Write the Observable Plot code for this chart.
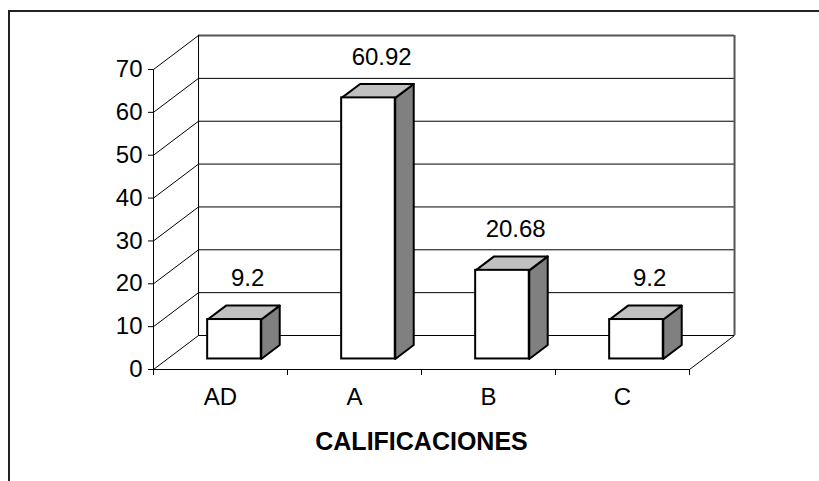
<!DOCTYPE html>
<html>
<head>
<meta charset="utf-8">
<script src="https://cdn.jsdelivr.net/npm/d3@7"></script>
<script src="https://cdn.jsdelivr.net/npm/@observablehq/plot@0.6"></script>
<style>
  html, body { margin: 0; padding: 0; background: #fff; }
  #wrap { position: relative; width: 819px; height: 481px; overflow: hidden; }
  #border { position: absolute; left: 8px; top: 10px; width: 900px; height: 600px;
            border-left: 2px solid #222; border-top: 2px solid #222; pointer-events: none; }
</style>
</head>
<body>
<div id="wrap"><div id="border"></div></div>
<script>
const categories = ["AD", "A", "B", "C"];
const values = [9.2, 60.92, 20.68, 9.2];
const valueLabels = ["9.2", "60.92", "20.68", "9.2"];
const yTicks = [0, 10, 20, 30, 40, 50, 60, 70];
const axisTitle = "CALIFICACIONES";

// 3D projection constants (depth offset expressed in scale units)
const DX = 0.336, DY = 7.93;     // full depth of the floor
const F1 = 0.31, F2 = 0.72;      // bar front / back depth fraction
const W = 0.4;                   // bar width (category units)
const N = categories.length;
const yMax = yTicks[yTicks.length - 1];

const bars = values.map((v, i) => {
  const c = i + 0.5;
  const xl = c - W / 2 + F1 * DX, xr = xl + W;
  const y0 = F1 * DY, yt = v + F1 * DY;
  const ddx = (F2 - F1) * DX, ddy = (F2 - F1) * DY;
  return {i, v, c, xl, xr, y0, yt, ddx, ddy};
});
const topFaces = bars.flatMap(b => [
  [b.xl, b.yt], [b.xr, b.yt], [b.xr + b.ddx, b.yt + b.ddy], [b.xl + b.ddx, b.yt + b.ddy], [b.xl, b.yt]
].map(([x, y]) => ({id: b.i, x, y})));
const sideFaces = bars.flatMap(b => [
  [b.xr, b.y0], [b.xr, b.yt], [b.xr + b.ddx, b.yt + b.ddy], [b.xr + b.ddx, b.y0 + b.ddy], [b.xr, b.y0]
].map(([x, y]) => ({id: b.i, x, y})));

const chart = Plot.plot({
  width: 819,
  height: 481,
  marginLeft: 153,
  marginRight: 130,
  marginTop: 69,
  marginBottom: 112,
  style: {fontFamily: "'Liberation Sans', Arial, sans-serif", fontSize: "24px", background: "transparent", color: "#000"},
  x: {domain: [0, N], axis: null},
  y: {domain: [0, yMax], axis: null},
  marks: [
    // side wall diagonals (from front axis to back wall)
    Plot.link(yTicks, {x1: 0, y1: d => d, x2: DX, y2: d => d + DY, stroke: "#000", strokeWidth: 1}),
    // back wall gridlines
    Plot.ruleY(yTicks.slice(0, -1), {y: d => d + DY, x1: DX, x2: N + DX, stroke: "#000", strokeWidth: 1}),
    Plot.ruleY([yMax], {y: d => d + DY, x1: DX, x2: N + DX, stroke: "#555", strokeWidth: 2}),
    // back wall vertical edges
    Plot.ruleX([DX], {y1: DY, y2: yMax + DY, stroke: "#000", strokeWidth: 1}),
    Plot.ruleX([N + DX], {y1: DY, y2: yMax + DY, stroke: "#555", strokeWidth: 2}),
    // floor right diagonal
    Plot.link([N], {x1: d => d, y1: 0, x2: d => d + DX, y2: DY, stroke: "#000", strokeWidth: 1}),
    // front axes lines
    Plot.ruleY([0], {x1: 0, x2: N, stroke: "#000", strokeWidth: 1}),
    Plot.ruleX([0], {y1: 0, y2: yMax, stroke: "#000", strokeWidth: 1}),
    // bars
    Plot.line(sideFaces, {x: "x", y: "y", z: "id", fill: "#808080", stroke: "#000", strokeWidth: 2, strokeLinejoin: "round"}),
    Plot.line(topFaces, {x: "x", y: "y", z: "id", fill: "#c0c0c0", stroke: "#000", strokeWidth: 2, strokeLinejoin: "round"}),
    Plot.rect(bars, {x1: "xl", x2: "xr", y1: "y0", y2: "yt", fill: "#fff", stroke: "#000", strokeWidth: 2}),
    // value labels
    Plot.text(bars, {x: b => b.c + (F1 + F2) / 2 * DX, y: b => b.v + F2 * DY, dx: 4, dy: -27,
                     text: b => valueLabels[b.i], fontSize: 24, fill: "#000"}),
    // axes
    Plot.axisY({ticks: yTicks, anchor: "left", tickSize: 5, tickPadding: 6, fontSize: 24, label: null, stroke: "#000"}),
    Plot.axisX({ticks: d3.range(0, N + 1), anchor: "bottom", tickSize: 6, tickFormat: () => "", label: null}),
    Plot.text(categories, {x: (d, i) => i + 0.5, y: 0, dy: 28, text: d => d, fontSize: 24, fill: "#000"}),
    Plot.text([axisTitle], {x: N / 2, y: 0, dy: 72, text: d => d, fontSize: 25, fontWeight: "bold", fill: "#000"})
  ]
});
document.getElementById("wrap").insertBefore(chart, document.getElementById("border"));
</script>
</body>
</html>
